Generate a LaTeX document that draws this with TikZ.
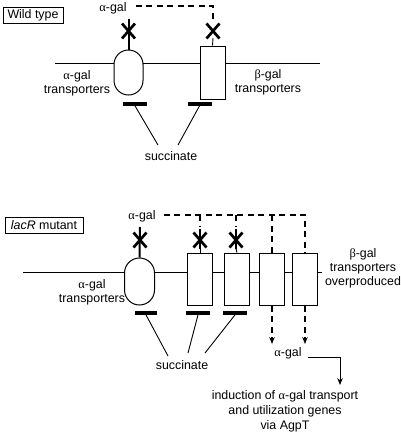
\documentclass[tikz,border=0pt]{standalone}
\usepackage{fontspec}
\setmainfont{Liberation Sans}
\newfontfamily\grk{Liberation Serif}
\newcommand{\alp}{{\grk α}}
\newcommand{\bet}{{\grk β}}
\usetikzlibrary{arrows.meta}
\begin{document}
\begin{tikzpicture}[x=1pt,y=-1pt,
  lab/.style={font=\fontsize{12.4}{14}\selectfont, inner sep=0pt, align=center},
  tbox/.style={draw, line width=1pt, minimum height=16pt, inner sep=0pt, font=\fontsize{12.4}{14}\selectfont},
  mem/.style={line width=0.8pt},
  capsule/.style={draw, fill=white, line width=1pt, rounded corners=14.5pt, minimum width=29pt, minimum height=45pt, inner sep=0pt},
  trans/.style={draw, fill=white, line width=1pt, minimum width=25pt, minimum height=52pt, inner sep=0pt},
  bar/.style={fill=black, minimum width=24pt, minimum height=3.4pt, inner sep=0pt},
  dsh/.style={line width=1.4pt, dash pattern=on 6pt off 4.5pt},
  thinl/.style={line width=0.9pt},
  stem/.style={line width=2pt},
  tip/.style={-{Stealth[length=7pt,width=5.5pt]}},
  xmark/.pic={\draw[line width=2.7pt] (-6.5,-7.5)--(6.5,7.5) (-6.5,7.5)--(6.5,-7.5);}
]
\useasboundingbox (0,0) rectangle (400,434);

% ---------------- Wild type ----------------
\node[tbox, minimum width=60pt] (wt) at (33,15.5) {Wild type};
\node[lab] (ag1) at (113,8) {\alp-gal};
\draw[mem] (55,63) -- (320,63);
\node[capsule] (capA) at (128.5,72.5) {};
\node[trans, minimum height=53pt] (trA) at (212.5,72.5) {};
\node[lab] (lA) at (77,83) {\alp-gal\\transporters};
\node[lab] (lB) at (268,82.5) {\bet-gal\\transporters};

\coordinate (xA) at (128.5,31);
\coordinate (xB) at (213,31);
\draw[stem] ([yshift=12pt]xA) -- (capA.north);
\pic at (xA) {xmark};
\pic at (xB) {xmark};
\draw[thinl] ([yshift=-7pt]xB) -- (trA.north);
\coordinate (dA) at (213,6);
\draw[dsh] ([xshift=9pt]ag1.east |- dA) -- (dA) -- ([yshift=12pt]xB);

\node[bar] (bA) at (135,104) {};
\node[bar] (bB) at (199.5,104) {};
\node[lab] (suc1) at (171,156) {succinate};
\draw[thinl] (bA.south) -- ([shift={(-13,-11)}]suc1.center);
\draw[thinl] (bB.south) -- ([shift={(7,-11)}]suc1.center);

% ---------------- lacR mutant ----------------
\node[tbox, minimum width=78pt] (lacr) at (44,225) {\textit{lacR} mutant};
\node[lab] (ag2) at (142,216) {\alp-gal};
\draw[mem] (23,272) -- (322,272);
\node[capsule, minimum width=30pt, minimum height=47pt, rounded corners=15pt] (capC) at (139.5,281.5) {};
\node[trans] (t1) at (200,279) {};
\node[trans] (t2) at (237,279) {};
\node[trans] (t3) at (272,279) {};
\node[trans] (t4) at (305,279) {};
\node[lab] (lC) at (92,292) {\alp-gal\\transporters};
\node[lab] (lD) at (363,268) {\bet-gal\\transporters\\overproduced};

\coordinate (xC) at (140,240);
\coordinate (x1) at (200,240);
\coordinate (x2) at (236,240);
\draw[stem] ([yshift=13pt]xC) -- (capC.north);
\draw[stem] ([yshift=11pt]x1) -- ([yshift=-9pt]x1);
\draw[stem] ([yshift=11pt]x2) -- ([yshift=-9pt]x2);
\draw[thinl] ([yshift=-9pt]x1) -- (t1.north);
\draw[thinl] ([yshift=-9pt]x2) -- (t2.north);
\pic at (xC) {xmark};
\pic at (x1) {xmark};
\pic at (x2) {xmark};

\coordinate (dB) at (305,215);
\draw[dsh] ([xshift=8pt]ag2.east |- dB) -- (dB) -- (t4.north);
\draw[dsh] (x1 |- dB) -- ([yshift=13pt]x1);
\draw[dsh] (x2 |- dB) -- ([yshift=13pt]x2);
\draw[dsh] (t3.north |- dB) -- (t3.north);

\node[bar, minimum width=22pt] (bC) at (146,313) {};
\node[bar] (b1) at (198,313) {};
\node[bar] (b2) at (235,313) {};
\node[lab] (suc2) at (182,365) {succinate};
\draw[thinl] (bC.south) -- ([shift={(-14,-9)}]suc2.center);
\draw[thinl] (b1.south) -- ([shift={(6,-12)}]suc2.center);
\draw[thinl] (b2.south) -- ([shift={(23,-12)}]suc2.center);

\node[lab] (ag3) at (288,353) {\alp-gal};
\draw[dsh, tip] (t3.south) -- ([yshift=3pt]t3.south |- ag3.north);
\draw[dsh, tip] (t4.south) -- ([yshift=3pt]t4.south |- ag3.north);

\node[lab, font=\fontsize{12.4}{15}\selectfont] (ind) at (285,411) {induction of \alp-gal transport\\and utilization genes\\via AgpT};
\draw[thinl, tip] ([shift={(6,4)}]ag3.east) -| ([shift={(55,-5)}]ind.north);
\end{tikzpicture}
\end{document}
